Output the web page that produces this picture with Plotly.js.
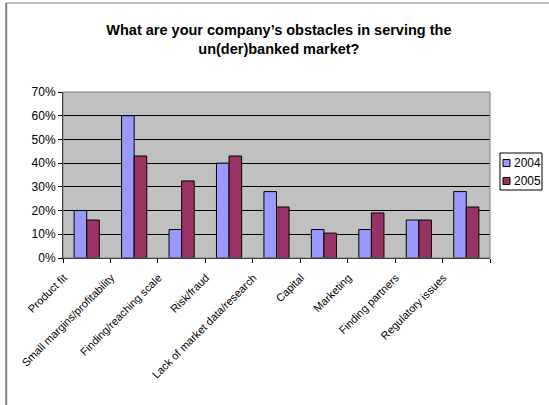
<!DOCTYPE html>
<html><head><meta charset="utf-8">
<script src="https://cdn.plot.ly/plotly-3.0.1.min.js"></script>
<style>body{margin:0;background:#fff}#c{width:549px;height:405px}</style>
</head><body><div id="c"></div>
<script>
const categories = ["Product fit","Small margins/profitability","Finding/reaching scale","Risk/fraud","Lack of market data/research","Capital","Marketing","Finding partners","Regulatory issues"];
const seriesNames = ["2004","2005"];
const values2004 = [0.20,0.60,0.12,0.40,0.28,0.12,0.12,0.16,0.28];
const values2005 = [0.16,0.43,0.325,0.43,0.215,0.105,0.19,0.16,0.215];
const yTicks = [0,0.1,0.2,0.3,0.4,0.5,0.6,0.7];
const yTickLabels = ["0%","10%","20%","30%","40%","50%","60%","70%"];
const colors = ["#9999FF","#993366"];

const font = "Arial, 'Liberation Sans', sans-serif";
const data = [
  {type:"bar", name:seriesNames[0], x:categories, y:values2004, marker:{color:colors[0], line:{color:"#000", width:1}}},
  {type:"bar", name:seriesNames[1], x:categories, y:values2005, marker:{color:colors[1], line:{color:"#000", width:1}}}
];

// manual legend (Excel-style compact box)
const legX0 = 1.0234, legX1 = 1.1218, legY0 = 0.4096, legY1 = 0.6325;
const itemY = [0.572, 0.464];
const shapes = [
  {type:"rect", xref:"paper", yref:"paper", x0:0, x1:1, y0:0, y1:1, line:{color:"#808080", width:1}, layer:"above"},
  {type:"line", xref:"paper", yref:"paper", x0:-0.133, x1:-0.133, y0:-0.94, y1:1.536, line:{color:"#808080", width:2}},
  {type:"line", xref:"paper", yref:"paper", x0:-0.133, x1:1.3, y0:1.536, y1:1.536, line:{color:"#808080", width:1}},
  {type:"rect", xref:"paper", yref:"paper", x0:legX0, x1:legX1, y0:legY0, y1:legY1, line:{color:"#000", width:1}, fillcolor:"#fff"}
];
const annotations = [];
seriesNames.forEach((n,i)=>{
  shapes.push({type:"rect", xref:"paper", yref:"paper", x0:1.0304, x1:1.0468, y0:itemY[i]-0.021, y1:itemY[i]+0.021, line:{color:"#000", width:1}, fillcolor:colors[i]});
  annotations.push({xref:"paper", yref:"paper", x:1.0515, y:itemY[i], xanchor:"left", yanchor:"middle", text:n, showarrow:false, font:{family:font, size:12, color:"#000"}});
});

const layout = {
  width:549, height:405,
  margin:{l:63, r:59, t:92, b:147},
  paper_bgcolor:"#fff", plot_bgcolor:"#C0C0C0",
  font:{family:font, color:"#000", size:11},
  title:{text:"<b>What are your company’s obstacles in serving the<br>un(der)banked market?</b>", font:{family:font, size:14.5, color:"#000"}, x:0.508, xanchor:"center", y:0.913, yanchor:"top"},
  barmode:"group", bargap:0.47, bargroupgap:0,
  showlegend:false,
  xaxis:{type:"category", tickangle:-45, tickfont:{family:font, size:11}, showline:true, linecolor:"#000", linewidth:1, ticks:"outside", ticklen:4, tickcolor:"#000", tickson:"boundaries", showgrid:false, automargin:false, ticklabelshift:-23, ticklabelstandoff:8},
  yaxis:{range:[0,0.7], tickvals:yTicks, ticktext:yTickLabels, tickfont:{family:font, size:12}, showline:true, linecolor:"#000", linewidth:1, ticks:"outside", ticklen:4, tickcolor:"#000", gridcolor:"#000", gridwidth:1, zeroline:false, automargin:false},
  shapes:shapes,
  annotations:annotations
};
Plotly.newPlot("c", data, layout, {displayModeBar:false, staticPlot:true});
</script>
</body></html>
